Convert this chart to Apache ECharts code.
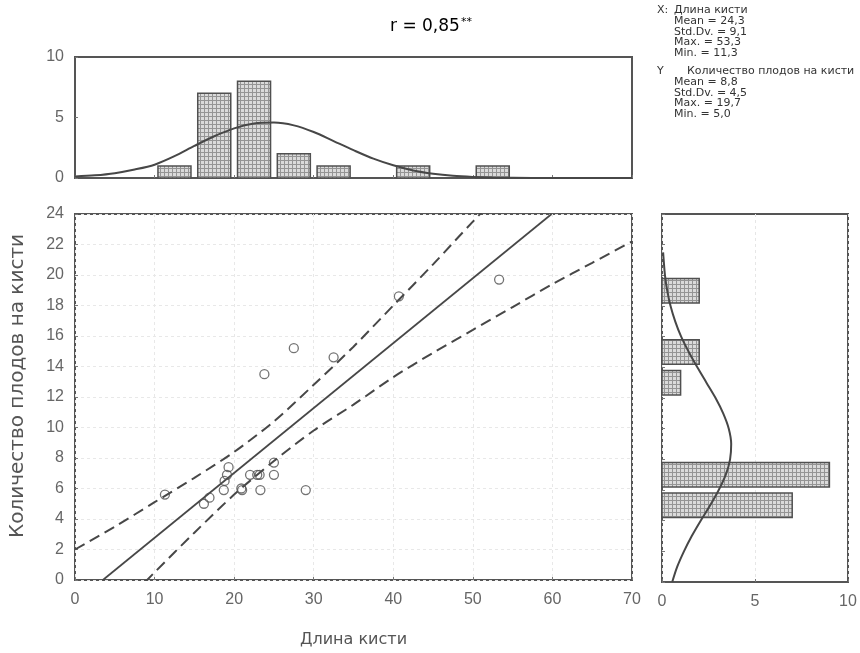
<!DOCTYPE html>
<html>
<head>
<meta charset="utf-8">
<script src="https://cdn.jsdelivr.net/npm/echarts@6/dist/echarts.min.js"></script>
<style>
  html, body { margin: 0; padding: 0; background: #fff; }
  #chart { width: 860px; height: 653px; }
</style>
</head>
<body>
<div id="chart"></div>
<script>
// Brush length (X) and number of fruits per brush (Y), one pair per plant
const brushLength = [11.3, 16.2, 16.9, 18.7, 18.8, 19.1, 19.3, 21.0, 20.9, 22.0, 22.9,
                     23.2, 23.3, 23.8, 25.0, 25.0, 27.5, 29.0, 32.5, 40.7, 53.3];
const fruitCount  = [5.6, 5.0, 5.4, 5.9, 6.5, 6.9, 7.4, 5.9, 6.0, 6.9, 6.9,
                     6.9, 5.9, 13.5, 7.7, 6.9, 15.2, 5.9, 14.6, 18.6, 19.7];

// Histogram of brush length (bins of width 5)
const xBinStart = [10, 15, 20, 25, 30, 40, 50];
const xBinCount = [1, 7, 8, 2, 1, 1, 1];
const xBinWidth = 5;

// Histogram of fruit count (bins of width 2)
const yBinStart = [4, 6, 12, 14, 18];
const yBinCount = [7, 9, 1, 2, 2];
const yBinWidth = 2;

// Normal curve over the length histogram
const xCurveAt  = [0, 2.5, 5, 7.5, 10, 12.5, 15, 17.5, 20, 22.5, 25, 27.5, 30, 32.5,
                   35, 37.5, 40, 42.5, 45, 47.5, 50, 52.5, 55, 60, 65, 70];
const xCurveVal = [0.12, 0.22, 0.4, 0.7, 1.1, 1.8, 2.65, 3.45, 4.1, 4.5, 4.58, 4.35, 3.8, 3.05,
                   2.3, 1.6, 1.05, 0.62, 0.35, 0.18, 0.09, 0.04, 0.02, 0, 0, 0];

// Normal curve over the fruit-count histogram
const yCurveAt  = [0, 1, 2, 3, 4, 5, 6, 7, 8, 9, 10, 11, 12, 13, 14, 15, 16, 17, 18, 19, 20, 21, 21.5];
const yCurveVal = [0.55, 0.82, 1.18, 1.6, 2.08, 2.59, 3.05, 3.43, 3.66, 3.72, 3.59, 3.29,
                   2.88, 2.39, 1.9, 1.44, 1.03, 0.71, 0.46, 0.28, 0.16, 0.09, 0.06];

// Regression line and 95% confidence band
const fitX = [3.5, 59.9];
const fitY = [0, 24];
const bandX     = [0, 5, 10, 15, 20, 25, 30, 35, 40, 45, 50, 55, 60, 65, 70];
const bandUpper = [2.0, 3.5, 5.1, 6.7, 8.4, 10.4, 12.8, 15.3, 18.0, 20.7, 23.5, 26.2, 29.0, 31.8, 34.5];
const bandLower = [-5.0, -2.2, 0.5, 3.1, 5.6, 7.8, 9.8, 11.5, 13.3, 14.9, 16.4, 17.9, 19.4, 20.8, 22.2];

// Axis ticks
const xTicks = [0, 10, 20, 30, 40, 50, 60, 70];
const yTicks = [0, 2, 4, 6, 8, 10, 12, 14, 16, 18, 20, 22, 24];
const histTicks = [0, 5, 10];

// Summary statistics block
const statsX = ['Mean = 24,3', 'Std.Dv. = 9,1', 'Max. = 53,3', 'Min. = 11,3'];
const statsY = ['Mean = 8,8', 'Std.Dv. = 4,5', 'Max. = 19,7', 'Min. = 5,0'];

const INK = '#474747';
const LABEL = '#666';
const NUM_FONT = 'Arial, "Liberation Sans", sans-serif';
const TXT_FONT = '"DejaVu Sans", Arial, sans-serif';

// Fine grey cross-hatch fill for histogram bars
function hatch() {
  const c = document.createElement('canvas');
  c.width = 4; c.height = 4;
  const g = c.getContext('2d');
  g.fillStyle = '#dadada'; g.fillRect(0, 0, 4, 4);
  g.fillStyle = '#949494'; g.fillRect(0, 0, 4, 1); g.fillRect(0, 0, 1, 4);
  return { image: c, repeat: 'repeat' };
}
const barFill = hatch();

const chart = echarts.init(document.getElementById('chart'), null, { renderer: 'canvas' });

const gridBox = { show: true, borderColor: '#555', borderWidth: 2, backgroundColor: 'transparent' };
const tickIn = { show: true, inside: true, length: 3, lineStyle: { color: '#777' } };
const faint = { show: true, lineStyle: { color: '#e8e8e8', type: [3, 3], width: 1 } };

function numLabel(show, margin) {
  return { show, color: LABEL, fontFamily: NUM_FONT, fontSize: 16, margin };
}

function statText(x, y, text) {
  return { type: 'text', x, y, style: { text, fill: '#333', font: '11px ' + TXT_FONT } };
}

const statChildren = [
  statText(0, 0, 'X:'), statText(17, 0, 'Длина кисти'),
  ...statsX.map((t, i) => statText(17, 10.6 * (i + 1), t)),
  statText(0, 61, 'Y'), statText(30, 61, 'Количество плодов на кисти'),
  ...statsY.map((t, i) => statText(17, 61 + 10.6 * (i + 1), t))
];

const option = {
  animation: false,
  backgroundColor: '#fff',
  grid: [
    Object.assign({ left: 75, top: 214, width: 557, height: 368 }, gridBox),
    Object.assign({ left: 75, top: 57, width: 557, height: 121 }, gridBox),
    Object.assign({ left: 662, top: 214, width: 186, height: 368 }, gridBox)
  ],
  xAxis: [
    { gridIndex: 0, type: 'value', min: xTicks[0], max: xTicks[xTicks.length - 1], interval: 10,
      axisLine: { show: false }, axisTick: tickIn, splitLine: faint, axisLabel: numLabel(true, 12),
      name: 'Длина кисти', nameLocation: 'middle', nameGap: 52,
      nameTextStyle: { color: '#555', fontFamily: TXT_FONT, fontSize: 16 } },
    { gridIndex: 1, type: 'value', min: 0, max: 70, interval: 10,
      axisLine: { show: false }, axisTick: tickIn, splitLine: { show: false }, axisLabel: { show: false } },
    { gridIndex: 2, type: 'value', min: histTicks[0], max: histTicks[2], interval: 5,
      axisLine: { show: false }, axisTick: tickIn,
      splitLine: { show: true, lineStyle: { color: '#e6e6e6', type: [3, 3] } },
      axisLabel: numLabel(true, 12) }
  ],
  yAxis: [
    { gridIndex: 0, type: 'value', min: yTicks[0], max: yTicks[yTicks.length - 1], interval: 2,
      axisLine: { show: false }, axisTick: tickIn, splitLine: faint, axisLabel: numLabel(true, 11) },
    { gridIndex: 1, type: 'value', min: histTicks[0], max: histTicks[2], interval: 5,
      axisLine: { show: false }, axisTick: tickIn, splitLine: { show: false }, axisLabel: numLabel(true, 11) },
    { gridIndex: 2, type: 'value', min: 0, max: 24, interval: 2,
      axisLine: { show: false }, axisTick: tickIn, splitLine: { show: false }, axisLabel: { show: false } }
  ],
  series: [
    // length histogram (top)
    {
      type: 'custom', xAxisIndex: 1, yAxisIndex: 1, z: 2,
      data: xBinStart.map((s, i) => [s, s + xBinWidth, xBinCount[i]]),
      renderItem(params, api) {
        const mid = (api.value(0) + api.value(1)) / 2;
        const half = api.size([xBinWidth, 0])[0] * 0.83 / 2;
        const top = api.coord([mid, api.value(2)]);
        const base = api.coord([mid, 0]);
        return { type: 'rect',
          shape: { x: top[0] - half, y: top[1], width: half * 2, height: base[1] - top[1] },
          style: { fill: barFill, stroke: '#505050', lineWidth: 1.5 } };
      }
    },
    {
      type: 'line', xAxisIndex: 1, yAxisIndex: 1, z: 3, smooth: 0.3, symbol: 'none',
      lineStyle: { color: INK, width: 2 },
      data: xCurveAt.map((x, i) => [x, xCurveVal[i]])
    },
    // fruit-count histogram (right)
    {
      type: 'custom', xAxisIndex: 2, yAxisIndex: 2, z: 2,
      data: yBinStart.map((s, i) => [s, s + yBinWidth, yBinCount[i]]),
      renderItem(params, api) {
        const mid = (api.value(0) + api.value(1)) / 2;
        const half = api.size([0, yBinWidth])[1] * 0.8 / 2;
        const end = api.coord([api.value(2), mid]);
        const base = api.coord([0, mid]);
        return { type: 'rect',
          shape: { x: base[0], y: end[1] - half, width: end[0] - base[0], height: half * 2 },
          style: { fill: barFill, stroke: '#505050', lineWidth: 1.5 } };
      }
    },
    {
      type: 'line', xAxisIndex: 2, yAxisIndex: 2, z: 3, smooth: 0.3, symbol: 'none',
      lineStyle: { color: INK, width: 2 },
      data: yCurveAt.map((y, i) => [yCurveVal[i], y])
    },
    // confidence band
    {
      type: 'line', xAxisIndex: 0, yAxisIndex: 0, smooth: 0.3, symbol: 'none', clip: true,
      lineStyle: { color: INK, width: 2, type: [11, 6] },
      data: bandX.map((x, i) => [x, bandUpper[i]])
    },
    {
      type: 'line', xAxisIndex: 0, yAxisIndex: 0, smooth: 0.3, symbol: 'none', clip: true,
      lineStyle: { color: INK, width: 2, type: [11, 6] },
      data: bandX.map((x, i) => [x, bandLower[i]])
    },
    // regression line
    {
      type: 'line', xAxisIndex: 0, yAxisIndex: 0, symbol: 'none', clip: true,
      lineStyle: { color: INK, width: 1.7 },
      data: fitX.map((x, i) => [x, fitY[i]])
    },
    // observations
    {
      type: 'scatter', xAxisIndex: 0, yAxisIndex: 0, z: 4,
      symbol: 'circle', symbolSize: 9,
      itemStyle: { color: 'rgba(255,255,255,0)', borderColor: '#505050', borderWidth: 1.3 },
      data: brushLength.map((x, i) => [x, fruitCount[i]])
    }
  ],
  graphic: [
    { type: 'text', x: 18, y: 386, rotation: Math.PI / 2,
      style: { text: 'Количество плодов на кисти', fill: '#555', font: '20px ' + TXT_FONT,
               align: 'center', verticalAlign: 'middle' } },
    { type: 'text', x: 390, y: 27,
      style: { text: '{a|r = 0,85}{s|**}', verticalAlign: 'middle',
        rich: { a: { fontSize: 17, fontFamily: TXT_FONT, color: '#333' },
                s: { fontSize: 11, fontFamily: TXT_FONT, color: '#333', padding: [0, 0, 9, 1] } } } },
    { type: 'group', x: 657, y: 5, children: statChildren }
  ]
};

chart.setOption(option);
</script>
</body>
</html>
